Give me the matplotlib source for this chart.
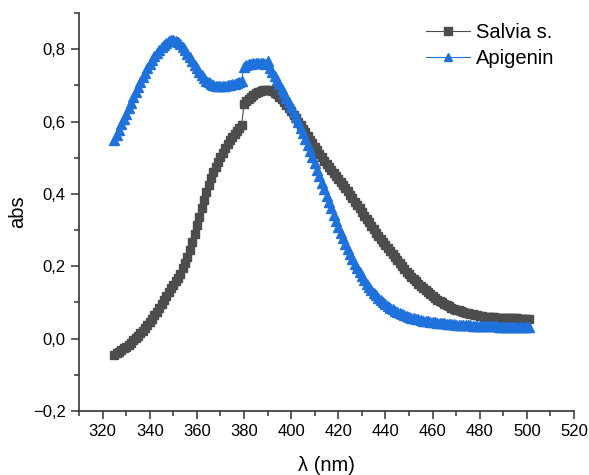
import matplotlib
matplotlib.use("Agg")
import matplotlib.pyplot as plt
from matplotlib.ticker import MultipleLocator, FuncFormatter

plt.rcParams['font.family'] = ['Liberation Sans', 'DejaVu Sans']

# wavelength axis, 1 nm steps
wl = list(range(325, 502))

# Salvia s. absorbance
sal_abs = [
    -0.045, -0.041, -0.036, -0.032, -0.027, -0.022, -0.017, -0.011, -0.005, 0.001,   # 325-334
    0.008, 0.015, 0.022, 0.030, 0.038, 0.046, 0.055, 0.065, 0.075, 0.085,           # 335-344
    0.095, 0.106, 0.118, 0.129, 0.140, 0.149, 0.158, 0.168, 0.180, 0.194,           # 345-354
    0.210, 0.227, 0.246, 0.267, 0.290, 0.313, 0.337, 0.360, 0.383, 0.405,           # 355-364
    0.425, 0.443, 0.460, 0.475, 0.489, 0.502, 0.514, 0.526, 0.537, 0.548,           # 365-374
    0.557, 0.566, 0.574, 0.582, 0.590, 0.648, 0.656, 0.663, 0.669, 0.674,           # 375-384
    0.678, 0.682, 0.685, 0.687, 0.688, 0.688, 0.686, 0.684, 0.680, 0.675,           # 385-394
    0.669, 0.662, 0.654, 0.646, 0.637, 0.628, 0.619, 0.610, 0.600, 0.590,           # 395-404
    0.580, 0.570, 0.560, 0.550, 0.540, 0.530, 0.520, 0.511, 0.501, 0.492,           # 405-414
    0.483, 0.475, 0.467, 0.459, 0.450, 0.442, 0.433, 0.425, 0.416, 0.407,           # 415-424
    0.398, 0.389, 0.379, 0.370, 0.360, 0.350, 0.340, 0.330, 0.321, 0.311,           # 425-434
    0.302, 0.293, 0.284, 0.275, 0.267, 0.258, 0.250, 0.242, 0.233, 0.225,           # 435-444
    0.217, 0.208, 0.200, 0.193, 0.185, 0.178, 0.171, 0.164, 0.158, 0.152,           # 445-454
    0.146, 0.140, 0.134, 0.128, 0.123, 0.118, 0.113, 0.108, 0.104, 0.100,           # 455-464
    0.096, 0.093, 0.089, 0.086, 0.083, 0.080, 0.078, 0.076, 0.074, 0.072,           # 465-474
    0.070, 0.068, 0.067, 0.066, 0.064, 0.063, 0.062, 0.061, 0.061, 0.060,           # 475-484
    0.059, 0.059, 0.058, 0.058, 0.057, 0.057, 0.057, 0.056, 0.056, 0.056,           # 485-494
    0.056, 0.056, 0.055, 0.055, 0.055, 0.055, 0.055,                                # 495-501
]

# Apigenin absorbance
api_abs = [
    0.550, 0.564, 0.578, 0.592, 0.607, 0.622, 0.637, 0.652, 0.667, 0.681,           # 325-334
    0.695, 0.709, 0.722, 0.735, 0.747, 0.759, 0.770, 0.780, 0.790, 0.798,           # 335-344
    0.806, 0.812, 0.818, 0.822, 0.825, 0.825, 0.823, 0.819, 0.813, 0.805,           # 345-354
    0.797, 0.788, 0.778, 0.767, 0.757, 0.747, 0.737, 0.728, 0.720, 0.713,           # 355-364
    0.708, 0.704, 0.701, 0.699, 0.698, 0.698, 0.698, 0.699, 0.700, 0.701,           # 365-374
    0.703, 0.705, 0.707, 0.709, 0.712, 0.752, 0.755, 0.758, 0.760, 0.762,           # 375-384
    0.763, 0.763, 0.763, 0.762, 0.760, 0.768, 0.748, 0.737, 0.726, 0.715,           # 385-394
    0.703, 0.691, 0.679, 0.666, 0.653, 0.640, 0.626, 0.612, 0.598, 0.583,           # 395-404
    0.568, 0.552, 0.536, 0.519, 0.502, 0.485, 0.467, 0.449, 0.431, 0.413,           # 405-414
    0.395, 0.377, 0.360, 0.343, 0.326, 0.309, 0.293, 0.277, 0.262, 0.247,           # 415-424
    0.233, 0.220, 0.207, 0.195, 0.183, 0.172, 0.162, 0.152, 0.143, 0.135,           # 425-434
    0.127, 0.120, 0.113, 0.107, 0.101, 0.095, 0.090, 0.085, 0.081, 0.077,           # 435-444
    0.073, 0.070, 0.067, 0.064, 0.062, 0.060, 0.058, 0.056, 0.054, 0.053,           # 445-454
    0.051, 0.050, 0.049, 0.048, 0.047, 0.046, 0.045, 0.044, 0.043, 0.043,           # 455-464
    0.042, 0.041, 0.041, 0.040, 0.040, 0.039, 0.039, 0.038, 0.038, 0.037,           # 465-474
    0.037, 0.037, 0.036, 0.036, 0.036, 0.035, 0.035, 0.035, 0.035, 0.034,           # 475-484
    0.034, 0.034, 0.034, 0.033, 0.033, 0.033, 0.033, 0.033, 0.033, 0.032,           # 485-494
    0.032, 0.032, 0.032, 0.032, 0.032, 0.032, 0.032,                                # 495-501
]

gray = '#4d4d4d'
blue = '#1f71dc'

fig = plt.figure(figsize=(5.89, 4.75), dpi=100)
ax = fig.add_axes([79 / 589, 64 / 475, 495 / 589, 398 / 475])

ax.plot(wl, sal_abs, color=gray, lw=0.8, marker='s', ms=6, mec=gray, mfc=gray,
        label='Salvia s.')
ax.plot(wl, api_abs, color=blue, lw=0.8, marker='^', ms=7, mec=blue, mfc=blue,
        label='Apigenin')

ax.set_xlim(310, 520)
ax.set_ylim(-0.2, 0.9)
ax.xaxis.set_minor_locator(MultipleLocator(10))
ax.yaxis.set_major_locator(MultipleLocator(0.2))
ax.yaxis.set_minor_locator(MultipleLocator(0.1))
ax.set_xticks([320, 340, 360, 380, 400, 420, 440, 460, 480, 500, 520])
ax.yaxis.set_major_formatter(FuncFormatter(
    lambda v, p: ('%.1f' % v).replace('.', ',').replace('-', '\u2212')))

for side in ['top', 'right']:
    ax.spines[side].set_visible(False)
for side in ['left', 'bottom']:
    ax.spines[side].set_linewidth(1.2)
    ax.spines[side].set_color('#333333')

ax.tick_params(which='major', length=6, width=1.1, color='#333333', labelsize=12)
ax.tick_params(which='minor', length=3.5, width=1.1, color='#333333')

ax.set_xlabel('\u03bb (nm)', fontsize=14.5, labelpad=12)
ax.set_ylabel('abs', fontsize=14.5, labelpad=4)

ax.legend(loc='upper left', bbox_to_anchor=(426 / 589, 1 - 23 / 475),
          bbox_transform=fig.transFigure, frameon=False, fontsize=14.5,
          handlelength=2.2, handletextpad=0.3, labelspacing=0.35, numpoints=1,
          borderaxespad=0, borderpad=0, markerscale=0.9)

fig.savefig('out.png', dpi=100)
